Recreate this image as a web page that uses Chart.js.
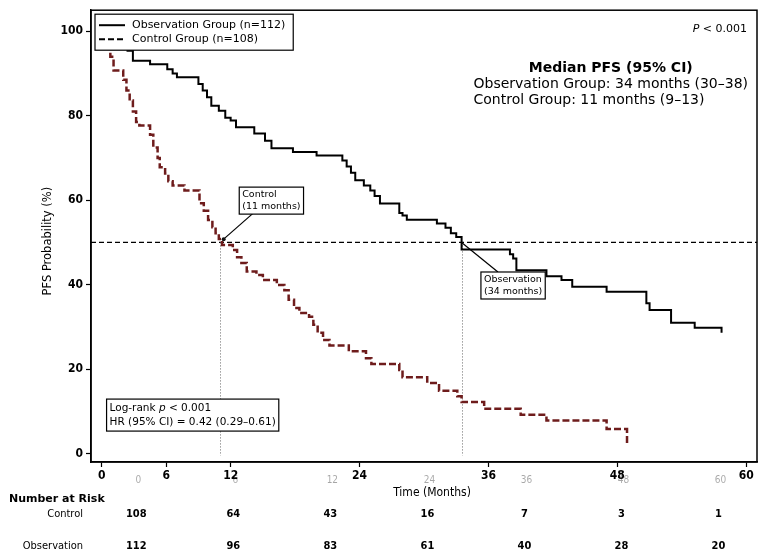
<!DOCTYPE html>
<html>
<head>
<meta charset="utf-8">
<script src="https://cdn.jsdelivr.net/npm/chart.js@4.4.0/dist/chart.umd.min.js"></script>
<style>
  html, body { margin: 0; padding: 0; background: #fff; }
</style>
</head>
<body>
<canvas id="kmChart" width="761" height="557"></canvas>
<script>
// Kaplan-Meier steps: time (months) where the curve drops, new PFS %
const obsTime = [0, 1.2, 2.4, 2.9, 4.5, 6.1, 6.6, 7.0, 9.0, 9.4, 9.8, 10.2, 10.9, 11.5, 12.0, 12.5, 14.2, 15.2, 15.8, 17.8, 20.0, 22.4, 22.8, 23.2, 23.6, 24.4, 25.0, 25.4, 25.9, 27.7, 28.0, 28.4, 31.2, 32.0, 32.5, 33.0, 33.5, 38.0, 38.3, 38.6, 41.4, 42.8, 43.8, 47.0, 50.7, 51.0, 53.0, 55.2, 57.7];
const obsSurv = [100, 98.2, 95.4, 93.0, 92.2, 91.0, 90.0, 89.1, 87.5, 86.0, 84.4, 82.4, 81.2, 79.5, 78.9, 77.3, 75.8, 74.1, 72.3, 71.4, 70.6, 69.4, 68.0, 66.5, 64.7, 63.5, 62.3, 61.0, 59.2, 57.0, 56.4, 55.4, 54.5, 53.5, 52.2, 51.3, 48.3, 47.2, 46.2, 43.4, 42.0, 41.1, 39.5, 38.3, 35.6, 34.0, 31.0, 29.8, 28.6];

const ctrlTime = [0, 0.5, 0.8, 1.1, 2.0, 2.3, 2.6, 2.9, 3.2, 3.5, 4.5, 4.8, 5.2, 5.4, 5.9, 6.2, 6.6, 7.7, 9.1, 9.5, 9.9, 10.3, 10.6, 10.9, 11.2, 12.2, 12.6, 13.0, 13.5, 14.4, 15.0, 16.3, 17.0, 17.4, 17.9, 18.4, 19.3, 19.7, 20.1, 20.6, 21.2, 23.0, 24.6, 25.1, 27.7, 28.0, 30.3, 31.4, 33.1, 33.5, 35.6, 39.0, 41.4, 47.0, 48.9];
const ctrlSurv = [100, 97.5, 94.0, 90.7, 88.5, 86.0, 83.6, 81.0, 78.5, 77.7, 75.5, 72.5, 70.0, 67.8, 66.3, 64.5, 63.5, 62.3, 59.3, 57.5, 55.3, 53.6, 52.2, 50.8, 49.4, 48.2, 46.5, 45.1, 43.1, 42.3, 41.1, 39.9, 38.7, 36.4, 34.5, 33.3, 32.4, 30.5, 28.6, 26.9, 25.6, 24.2, 22.6, 21.2, 19.8, 18.1, 16.7, 14.9, 13.6, 12.2, 10.6, 9.2, 7.8, 5.8, 2.1];

const xTickValues = [0, 6, 12, 24, 36, 48, 60];
const yTickValues = [0, 20, 40, 60, 80, 100];

// where each curve crosses 50% (control, observation)
const medianTimes = [11, 33.5];

// number at risk table
const riskColumnLabels = ['0', '6', '12', '24', '36', '48', '60'];
const riskControl = [108, 64, 43, 16, 7, 3, 1];
const riskObservation = [112, 96, 83, 61, 40, 28, 20];

const FONT = "'DejaVu Sans', sans-serif";
const NARROW = "'DejaVu Sans Condensed', 'DejaVu Sans', sans-serif";

function toPoints(ts, vs) {
    return ts.map((t, i) => ({ x: t, y: vs[i] }));
}

// draws a row of text pieces, some of them italic
function drawPieces(ctx, pieces, x, y, size) {
    let cx = x;
    pieces.forEach(p => {
        ctx.font = (p.italic ? 'italic ' : '') + (p.bold ? 'bold ' : '') + size + 'px ' + FONT;
        ctx.fillText(p.text, cx, y);
        cx += ctx.measureText(p.text).width;
    });
    return cx - x;
}

function measurePieces(ctx, pieces, size) {
    let w = 0;
    pieces.forEach(p => {
        ctx.font = (p.italic ? 'italic ' : '') + (p.bold ? 'bold ' : '') + size + 'px ' + FONT;
        w += ctx.measureText(p.text).width;
    });
    return w;
}

function textBox(ctx, lines, left, top, size, lineGap, pad) {
    let w = 0;
    lines.forEach(l => { w = Math.max(w, measurePieces(ctx, l, size)); });
    const h = lines.length * lineGap + pad * 2 - 2;
    ctx.fillStyle = '#fff';
    ctx.fillRect(left, top, w + pad * 2, h);
    ctx.strokeStyle = '#000';
    ctx.lineWidth = 1.2;
    ctx.setLineDash([]);
    ctx.strokeRect(left, top, w + pad * 2, h);
    ctx.fillStyle = '#000';
    ctx.textAlign = 'left';
    ctx.textBaseline = 'middle';
    lines.forEach((l, i) => drawPieces(ctx, l, left + pad, top + pad + lineGap * i + lineGap / 2 - 1, size));
    return { w: w + pad * 2, h: h };
}

const overlayPlugin = {
    id: 'kmOverlay',
    beforeDatasetsDraw(chart) {
        const { ctx, chartArea: a, scales: { x, y } } = chart;
        const y50 = y.getPixelForValue(50);
        ctx.save();
        // 50% line
        ctx.strokeStyle = '#000';
        ctx.lineWidth = 1.3;
        ctx.setLineDash([5, 3]);
        ctx.beginPath();
        ctx.moveTo(a.left, y50);
        ctx.lineTo(a.right, y50);
        ctx.stroke();
        // median drop lines
        ctx.strokeStyle = '#666';
        ctx.lineWidth = 1;
        ctx.setLineDash([1, 2]);
        medianTimes.forEach(t => {
            const px = Math.round(x.getPixelForValue(t)) + 0.5;
            ctx.beginPath();
            ctx.moveTo(px, y50);
            ctx.lineTo(px, y.getPixelForValue(-0.5));
            ctx.stroke();
        });
        ctx.restore();
    },
    afterDraw(chart) {
        const { ctx, chartArea: a, scales: { x, y } } = chart;
        const ds = chart.data.datasets;
        ctx.save();

        // frame
        ctx.strokeStyle = '#000';
        ctx.lineWidth = 1.5;
        ctx.setLineDash([]);
        ctx.strokeRect(a.left, a.top, a.right - a.left, a.bottom - a.top);

        // legend box
        ctx.font = '11px ' + FONT;
        const lw = Math.max(...ds.map(d => ctx.measureText(d.label).width)) + 45;
        const lx = a.left + 4, ly = a.top + 4;
        ctx.fillStyle = '#fff';
        ctx.fillRect(lx, ly, lw, 36);
        ctx.lineWidth = 1.2;
        ctx.strokeRect(lx, ly, lw, 36);
        ds.forEach((d, i) => {
            const ry = ly + 11 + i * 14;
            ctx.strokeStyle = '#000';
            ctx.lineWidth = 2;
            ctx.setLineDash(i === 0 ? [] : [6, 3]);
            ctx.beginPath();
            ctx.moveTo(lx + 4, ry);
            ctx.lineTo(lx + 30, ry);
            ctx.stroke();
            ctx.setLineDash([]);
            ctx.fillStyle = '#000';
            ctx.textAlign = 'left';
            ctx.textBaseline = 'middle';
            ctx.font = '11px ' + FONT;
            ctx.fillText(d.label, lx + 37, ry);
        });

        // P value top right
        ctx.fillStyle = '#000';
        ctx.textBaseline = 'middle';
        const pPieces = [{ text: 'P', italic: true }, { text: ' < 0.001' }];
        const pw = measurePieces(ctx, pPieces, 11);
        drawPieces(ctx, pPieces, a.right - 10 - pw, a.top + 19, 11);

        // median block
        const medLines = ['Observation Group: 34 months (30\u201338)', 'Control Group: 11 months (9\u201313)'];
        ctx.font = '14px ' + FONT;
        const mw = Math.max(...medLines.map(s => ctx.measureText(s).width));
        const mLeft = a.right - 9 - mw;
        ctx.textAlign = 'center';
        ctx.font = 'bold 14px ' + FONT;
        ctx.fillText('Median PFS (95% CI)', mLeft + mw / 2, a.top + 58);
        ctx.textAlign = 'left';
        ctx.font = '14px ' + FONT;
        medLines.forEach((s, i) => ctx.fillText(s, mLeft, a.top + 74 + i * 16.5));

        // log-rank box
        textBox(ctx, [
            [{ text: 'Log-rank ' }, { text: 'p', italic: true }, { text: ' < 0.001' }],
            [{ text: 'HR (95% CI) = 0.42 (0.29\u20130.61)' }]
        ], x.getPixelForValue(0.45), y.getPixelForValue(12.9), 10.5, 14, 3);

        // median annotations
        const notes = [
            { lines: ['Control', '(11 months)'], at: [12.8, 63.1], from: 14, below: true, t: medianTimes[0] },
            { lines: ['Observation', '(34 months)'], at: [35.3, 43.0], from: 17, below: false, t: medianTimes[1] }
        ];
        notes.forEach(n => {
            const bx = x.getPixelForValue(n.at[0]), by = y.getPixelForValue(n.at[1]);
            const px = x.getPixelForValue(n.t), py = y.getPixelForValue(50);
            const sx = bx + n.from;
            const box = { h: 26 };
            const sy = n.below ? by + box.h : by;
            let ex = px, ey = py;
            if (n.below) {
                const len = Math.hypot(px - sx, py - sy);
                ex = px + (sx - px) * 5 / len;
                ey = py + (sy - py) * 5 / len;
            }
            ctx.strokeStyle = '#000';
            ctx.lineWidth = 1.2;
            ctx.setLineDash([]);
            ctx.beginPath();
            ctx.moveTo(sx, sy);
            ctx.lineTo(ex, ey);
            ctx.stroke();
            if (n.below) {
                ctx.fillStyle = '#111';
                ctx.beginPath();
                ctx.arc(ex, ey, 2, 0, Math.PI * 2);
                ctx.fill();
            }
            textBox(ctx, n.lines.map(s => [{ text: s }]), bx, by, 9.5, 11.5, 3);
        });

        // axis titles
        ctx.fillStyle = '#000';
        ctx.textAlign = 'center';
        ctx.textBaseline = 'middle';
        ctx.font = '12px ' + NARROW;
        ctx.fillText('Time (Months)', (a.left + a.right) / 2 + 8, a.bottom + 31);
        ctx.save();
        ctx.translate(48, (a.top + a.bottom) / 2 + 5);
        ctx.rotate(-Math.PI / 2);
        ctx.font = '11.5px ' + FONT;
        ctx.fillText('PFS Probability (%)', 0, 0);
        ctx.restore();

        // number at risk table
        const colX = i => a.left + (a.right - a.left) * (0.068 + i * 0.1457);
        ctx.textAlign = 'left';
        ctx.font = 'bold 11px ' + FONT;
        ctx.fillText('Number at Risk', 9, a.bottom + 37);
        ctx.textAlign = 'right';
        ctx.font = '11px ' + NARROW;
        ctx.fillText('Control', 83, a.bottom + 52);
        ctx.fillText('Observation', 83, a.bottom + 84);
        ctx.textAlign = 'center';
        ctx.font = '10px ' + NARROW;
        ctx.fillStyle = 'rgba(0,0,0,0.35)';
        riskColumnLabels.forEach((s, i) => ctx.fillText(s, colX(i) + 2, a.bottom + 18));
        ctx.fillStyle = '#000';
        ctx.font = 'bold 11px ' + NARROW;
        riskControl.forEach((v, i) => ctx.fillText(String(v), colX(i), a.bottom + 52));
        riskObservation.forEach((v, i) => ctx.fillText(String(v), colX(i), a.bottom + 84));

        ctx.restore();
    }
};

const tickFont = { family: NARROW, size: 12, weight: 'bold' };

new Chart(document.getElementById('kmChart'), {
    type: 'line',
    data: {
        datasets: [{
            label: 'Observation Group (n=112)',
            data: toPoints(obsTime, obsSurv),
            borderColor: '#000',
            borderWidth: 2,
            stepped: true,
            pointRadius: 0,
            fill: false
        }, {
            label: 'Control Group (n=108)',
            data: toPoints(ctrlTime, ctrlSurv),
            borderColor: '#6e1c1c',
            borderWidth: 2.5,
            borderDash: [7, 3],
            stepped: true,
            pointRadius: 0,
            fill: false
        }]
    },
    options: {
        responsive: false,
        animation: false,
        layout: { padding: { top: 9, right: 4, left: 0, bottom: 0 } },
        plugins: {
            legend: { display: false },
            tooltip: { enabled: false }
        },
        scales: {
            x: {
                type: 'linear',
                min: -1,
                max: 61,
                afterBuildTicks: s => { s.ticks = xTickValues.map(v => ({ value: v })); },
                afterFit: s => { s.height = 95; },
                grid: { drawOnChartArea: false, tickLength: 5, tickColor: '#000', tickWidth: 1.2 },
                border: { color: '#000', width: 1.5 },
                ticks: { color: '#000', font: tickFont, padding: 2, maxRotation: 0, autoSkip: false }
            },
            y: {
                min: -2,
                max: 105,
                afterBuildTicks: s => { s.ticks = yTickValues.map(v => ({ value: v })); },
                afterFit: s => { s.width = 91; },
                grid: { drawOnChartArea: false, tickLength: 5, tickColor: '#000', tickWidth: 1.2 },
                border: { color: '#000', width: 1.5 },
                ticks: { color: '#000', font: tickFont, padding: 3 }
            }
        }
    },
    plugins: [overlayPlugin]
});
</script>
</body>
</html>
